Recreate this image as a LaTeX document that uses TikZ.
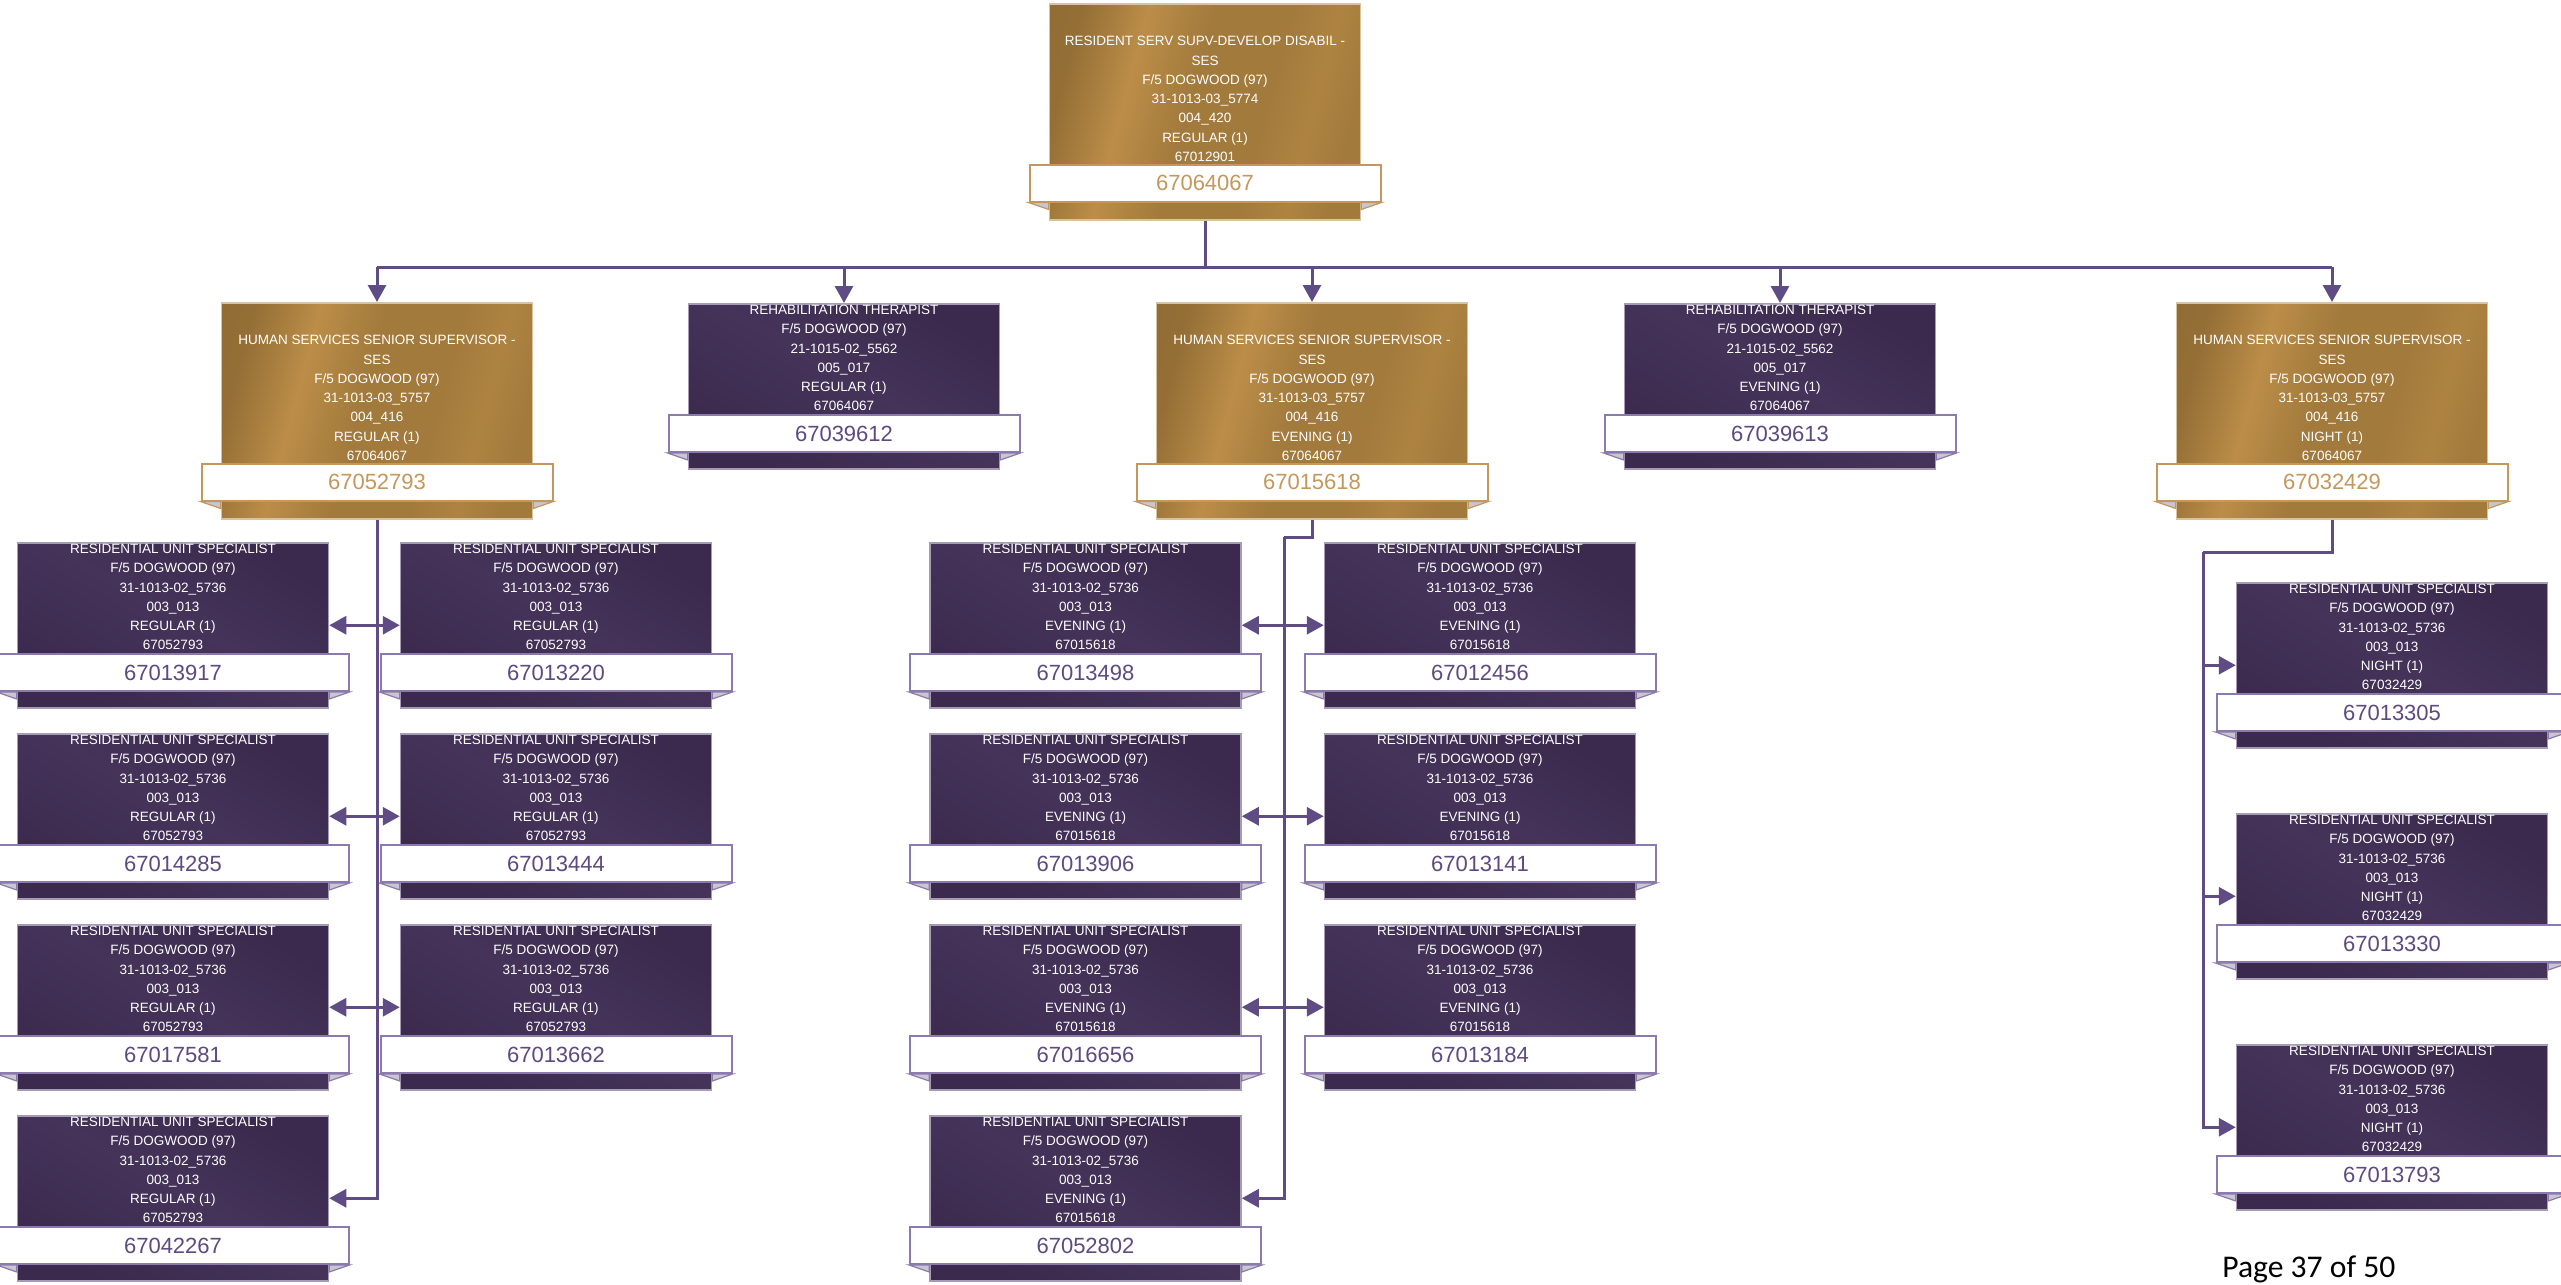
\documentclass[tikz,border=0pt]{standalone}
\usepackage{fontspec}
\setmainfont{Liberation Sans}
\newfontfamily\pagefont{Carlito}
\usetikzlibrary{arrows.meta,calc}

\definecolor{golddark}{HTML}{86632F}
\definecolor{goldmid}{HTML}{A27A3C}
\definecolor{goldlite}{HTML}{BB8D48}
\definecolor{goldedge}{HTML}{D7C3A0}
\definecolor{goldnum}{HTML}{C4975C}
\definecolor{plumdark}{HTML}{3B2A4D}
\definecolor{plumlite}{HTML}{45335A}
\definecolor{plumedge}{HTML}{A59BB4}
\definecolor{plumband}{HTML}{8C7AAE}
\definecolor{plumnum}{HTML}{5E4A80}
\definecolor{linkplum}{HTML}{604C84}
\definecolor{foldgrey}{HTML}{C9C6CF}

\pgfdeclarehorizontalshading{goldsheen}{100bp}{color(0bp)=(golddark); color(25bp)=(golddark!50!goldmid); color(36bp)=(goldlite); color(47bp)=(goldmid); color(60bp)=(goldmid); color(68bp)=(goldlite!50!goldmid); color(75bp)=(goldmid); color(100bp)=(goldmid)}
\pgfdeclarehorizontalshading{plumsheen}{100bp}{color(0bp)=(plumdark); color(25bp)=(plumdark); color(52bp)=(plumlite); color(75bp)=(plumdark); color(100bp)=(plumdark)}

\tikzset{
  card box/.style={anchor=north,minimum width=155.5pt,inner sep=0pt,line width=0.75pt},
  gold box/.style={card box,minimum height=108pt,draw=goldedge,shade,shading=goldsheen,shading angle=-15},
  plum box/.style={card box,minimum height=82.5pt,draw=plumedge,shade,shading=plumsheen,shading angle=60},
  card text/.style={inner sep=0pt,align=center,text=white,font={\fontsize{6.75}{9.65}\selectfont}},
  gold text/.style={card text,yshift=-48pt},
  plum text/.style={card text,yshift=-27.5pt},
  card band/.style={minimum width=175.5pt,minimum height=18.5pt,inner sep=0pt,fill=white,line width=1pt,font={\fontsize{11}{13}\selectfont}},
  gold band/.style={card band,draw=goldnum,text=goldnum,yshift=-90pt},
  plum band/.style={card band,draw=plumband,text=plumnum,yshift=-65.25pt},
  gold fold/.style={fill=foldgrey,draw=goldnum,line width=0.6pt},
  plum fold/.style={fill=foldgrey,draw=plumband,line width=0.6pt},
  link/.style={draw=linkplum,line width=1.5pt}
}

% #1 kind, #2 name, #3 top centre, #4 text, #5 position number
\newcommand{\poscard}[5]{%
  \node[#1 box] (#2) at (#3) {};
  \node[#1 text] (#2-txt) at (#2.north) {#4};
  \node[#1 band] (#2-band) at (#2.north) {#5};
  \draw[#1 fold] (#2-band.south west) -- ($(#2-band.south west -| #2.west)+(0,-3.5pt)$) -- (#2-band.south west -| #2.west) -- cycle;
  \draw[#1 fold] (#2-band.south east) -- ($(#2-band.south east -| #2.east)+(0,-3.5pt)$) -- (#2-band.south east -| #2.east) -- cycle;
}
\newcommand{\rusline}[2]{RESIDENTIAL UNIT SPECIALIST\\F/5 DOGWOOD (97)\\31-1013-02\_5736\\003\_013\\#1\\#2}
\newcommand{\hssline}[1]{HUMAN SERVICES SENIOR SUPERVISOR -\\SES\\F/5 DOGWOOD (97)\\31-1013-03\_5757\\004\_416\\#1\\67064067}
\newcommand{\rtline}[1]{REHABILITATION THERAPIST\\F/5 DOGWOOD (97)\\21-1015-02\_5562\\005\_017\\#1\\67064067}

\begin{document}
\begin{tikzpicture}[>={Triangle[length=8.5pt,width=9pt]},x=0.5pt,y=0.5pt]
\useasboundingbox (0,0) rectangle (2561,-1285);

% top of the tree
\poscard{gold}{chief}{1205,-3}{RESIDENT SERV SUPV-DEVELOP DISABIL -\\SES\\F/5 DOGWOOD (97)\\31-1013-03\_5774\\004\_420\\REGULAR (1)\\67012901}{67064067}

% second level
\poscard{gold}{hssreg}{377,-302}{\hssline{REGULAR (1)}}{67052793}
\poscard{plum}{rtreg}{844,-303}{\rtline{REGULAR (1)}}{67039612}
\poscard{gold}{hsseve}{1312,-302}{\hssline{EVENING (1)}}{67015618}
\poscard{plum}{rteve}{1780,-303}{\rtline{EVENING (1)}}{67039613}
\poscard{gold}{hssnight}{2332,-302}{\hssline{NIGHT (1)}}{67032429}

\coordinate (bus) at (0,-267);
\draw[link] (chief.south) -- (chief.south |- bus);
\draw[link] (hssreg.north |- bus) -- (hssnight.north |- bus);
\foreach \c in {hssreg,rtreg,hsseve,rteve,hssnight}
  \draw[link,->] (\c.north |- bus) -- (\c.north);

% regular shift
\foreach \id [count=\i] in {67013917,67014285,67017581,67042267}
  {\poscard{plum}{p\id}{173,{-542-191*(\i-1)}}{\rusline{REGULAR (1)}{67052793}}{\id}}
\foreach \id [count=\i] in {67013220,67013444,67013662}
  {\poscard{plum}{p\id}{556,{-542-191*(\i-1)}}{\rusline{REGULAR (1)}{67052793}}{\id}}
\draw[link,->] (hssreg.south) |- (p67042267.east);
\foreach \a/\b in {67013917/67013220,67014285/67013444,67017581/67013662}
  \draw[link,<->] (p\a.east) -- (p\b.west);

% evening shift
\foreach \id [count=\i] in {67013498,67013906,67016656,67052802}
  {\poscard{plum}{p\id}{1085.5,{-542-191*(\i-1)}}{\rusline{EVENING (1)}{67015618}}{\id}}
\foreach \id [count=\i] in {67012456,67013141,67013184}
  {\poscard{plum}{p\id}{1480,{-542-191*(\i-1)}}{\rusline{EVENING (1)}{67015618}}{\id}}
\coordinate (evejog) at (1284,-537);
\draw[link] (hsseve.south) |- (evejog);
\draw[link,->] (evejog) |- (p67052802.east);
\foreach \a/\b in {67013498/67012456,67013906/67013141,67016656/67013184}
  \draw[link,<->] (p\a.east) -- (p\b.west);

% night shift
\foreach \id [count=\i] in {67013305,67013330,67013793}
  {\poscard{plum}{p\id}{2392,{-582-231*(\i-1)}}{\rusline{NIGHT (1)}{67032429}}{\id}}
\coordinate (nightjog) at (2203,-552);
\draw[link] (hssnight.south) |- (nightjog);
\draw[link,->] (nightjog) |- (p67013793.west);
\foreach \c in {67013305,67013330}
  \draw[link,->] (nightjog |- p\c.west) -- (p\c.west);

\node[font={\pagefont\fontsize{15.8}{18}\selectfont},anchor=base west,inner sep=0pt] (pageno) at (2222,-1277) {Page 37 of 50};
\end{tikzpicture}
\end{document}
